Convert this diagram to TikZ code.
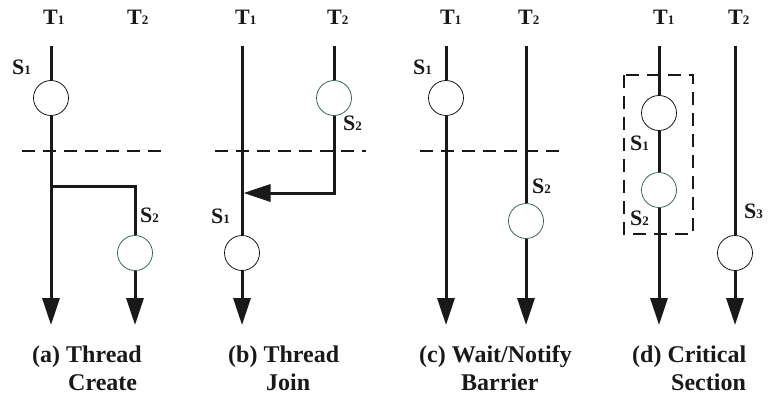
\documentclass[tikz,border=0pt]{standalone}
\usepackage{fontspec}
\setmainfont{Liberation Serif}
\usetikzlibrary{arrows.meta}
\definecolor{sgreen}{RGB}{35,95,60}
\definecolor{ink}{RGB}{25,25,25}
% thread / statement label: big letter, small digit on the baseline
\newcommand{\ilab}[2]{#1{\fontsize{13}{13}\selectfont #2}}
\begin{document}
\begin{tikzpicture}[x=1pt,y=-1pt,
  thread/.style={line width=3pt, draw=ink},
  flow/.style={thread, -{Triangle[length=27pt,width=17pt]}},
  stmt/.style={circle, draw=black, fill=white, line width=0.7pt, minimum size=35pt, inner sep=0pt},
  stmtg/.style={stmt, draw=sgreen},
  lbl/.style={font=\bfseries\fontsize{22}{22}\selectfont, inner sep=0pt, anchor=base west, text=ink},
  captxt/.style={font=\bfseries\fontsize{24}{24}\selectfont, inner sep=0pt, anchor=base west, text=ink},
  sync/.style={line width=1.2pt, draw=ink, dash pattern=on 13pt off 8pt}]
\useasboundingbox (0,0) rectangle (769,396);

% ---------------- (a) Thread Create ----------------
\node[lbl] (aT1) at (43,25) {\ilab{T}{1}};
\node[lbl] (aT2) at (127,25) {\ilab{T}{2}};
\coordinate (a1top) at (51,46);
\coordinate (a1end) at (51,325);
\coordinate (afork) at (51,186);
\coordinate (a2turn) at (135,186);
\coordinate (a2end) at (135,325);
\node[stmt] (aS1) at (51,98) {};
\node[stmtg] (aS2) at (135,253) {};
\node[lbl] (aL1) at (12,75) {\ilab{S}{1}};
\node[lbl] (aL2) at (140,222) {\ilab{S}{2}};
\draw[thread] (a1top) -- (aS1);
\draw[flow] (aS1) -- (a1end);
\draw[thread] (afork) -- (a2turn) -- (aS2);
\draw[flow] (aS2) -- (a2end);
\coordinate (adl) at (22,151);
\coordinate (adr) at (163,151);
\draw[sync] (adl) -- (adr);
\node[captxt] (acap1) at (32,362) {(a) Thread};
\node[captxt] (acap2) at (68,390) {Create};

% ---------------- (b) Thread Join ----------------
\node[lbl] (bT1) at (235,25) {\ilab{T}{1}};
\node[lbl] (bT2) at (327,25) {\ilab{T}{2}};
\coordinate (b1top) at (242,46);
\coordinate (b1end) at (242,325);
\coordinate (b2top) at (334,46);
\coordinate (b2turn) at (334,193);
\coordinate (bjoin) at (243.5,193);
\node[stmtg] (bS2) at (334,98) {};
\node[stmt] (bS1) at (242,253) {};
\node[lbl] (bL2) at (343,131) {\ilab{S}{2}};
\node[lbl] (bL1) at (211,223) {\ilab{S}{1}};
\draw[thread] (b1top) -- (bS1);
\draw[flow] (bS1) -- (b1end);
\draw[thread] (b2top) -- (bS2);
\draw[flow] (bS2) -- (b2turn) -- (bjoin);
\coordinate (bdl) at (215,151);
\coordinate (bdr) at (366,151);
\draw[sync] (bdl) -- (bdr);
\node[captxt] (bcap1) at (228,362) {(b) Thread};
\node[captxt] (bcap2) at (266,390) {Join};

% ---------------- (c) Wait/Notify Barrier ----------------
\node[lbl] (cT1) at (440,25) {\ilab{T}{1}};
\node[lbl] (cT2) at (518,25) {\ilab{T}{2}};
\coordinate (c1top) at (446,46);
\coordinate (c1end) at (446,325);
\coordinate (c2top) at (526,46);
\coordinate (c2end) at (526,325);
\node[stmt] (cS1) at (446,98) {};
\node[stmtg] (cS2) at (526,221) {};
\node[lbl] (cL1) at (413,75) {\ilab{S}{1}};
\node[lbl] (cL2) at (532,193) {\ilab{S}{2}};
\draw[thread] (c1top) -- (cS1);
\draw[flow] (cS1) -- (c1end);
\draw[thread] (c2top) -- (cS2);
\draw[flow] (cS2) -- (c2end);
\coordinate (cdl) at (420,151);
\coordinate (cdr) at (562,151);
\draw[sync] (cdl) -- (cdr);
\node[captxt] (ccap1) at (419,362) {(c) Wait/Notify};
\node[captxt] (ccap2) at (461,390) {Barrier};

% ---------------- (d) Critical Section ----------------
\node[lbl] (dT1) at (653,25) {\ilab{T}{1}};
\node[lbl] (dT2) at (728,25) {\ilab{T}{2}};
\coordinate (d1top) at (659,46);
\coordinate (d1end) at (659,325);
\coordinate (d2top) at (735,46);
\coordinate (d2end) at (735,325);
\node[stmt] (dS1) at (659,113) {};
\node[stmtg] (dS2) at (659,190) {};
\node[stmt] (dS3) at (735,253) {};
\node[lbl] (dL1) at (630,150) {\ilab{S}{1}};
\node[lbl] (dL2) at (630,225) {\ilab{S}{2}};
\node[lbl] (dL3) at (744,218) {\ilab{S}{3}};
\draw[thread] (d1top) -- (dS1);
\draw[thread] (dS1) -- (dS2);
\draw[flow] (dS2) -- (d1end);
\draw[thread] (d2top) -- (dS3);
\draw[flow] (dS3) -- (d2end);
\coordinate (dboxa) at (624,75);
\coordinate (dboxb) at (693,234);
\draw[sync] (dboxa) rectangle (dboxb);
\node[captxt] (dcap1) at (632,362) {(d) Critical};
\node[captxt] (dcap2) at (671,390) {Section};
\end{tikzpicture}
\end{document}
